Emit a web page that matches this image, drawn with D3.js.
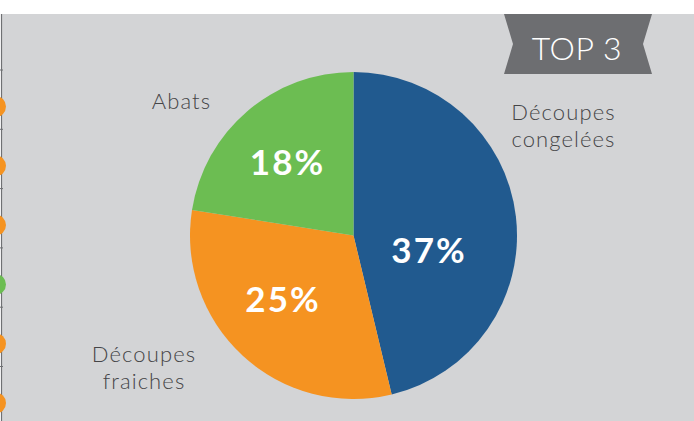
<!DOCTYPE html>
<html>
<head>
<meta charset="utf-8">
<script src="https://cdn.jsdelivr.net/npm/d3@7"></script>
<style>
html,body{margin:0;padding:0;background:#fff;}
svg{display:block;}
</style>
</head>
<body>
<svg id="chart" width="694" height="421"></svg>
<script>
// ---- data ----
const categories = ["Découpes congelées", "Découpes fraiches", "Abats"];
const values = [37, 25, 18];
const percentLabels = ["37%", "25%", "18%"];
const categoryLines = [["Découpes", "congelées"], ["Découpes", "fraiches"], ["Abats"]];
const colors = ["#215a8f", "#f59321", "#6cbd52"];
const badgeText = "TOP 3";
const sideDotColors = ["#f59321", "#f59321", "#f59321", "#6cbd52", "#f59321", "#f59321"];

// ---- layout ----
const W = 694, H = 421;
const cx = 353.5, cy = 235.5, R = 163.5;
const pctPos = [[428, 263], [282, 312], [286.5, 174.5]];      // centre x, baseline y
const catPos = [[563, 120], [143.5, 362], [181, 109]];        // centre x, first baseline
const lineGap = 27;

const svg = d3.select("#chart");

// background
svg.append("rect").attr("x", 0).attr("y", 0).attr("width", W).attr("height", H).attr("fill", "#ffffff");
svg.append("rect").attr("x", 2).attr("y", 14).attr("width", W - 2).attr("height", H - 14).attr("fill", "#d3d4d6");

// left decorative timeline
svg.append("line").attr("x1", 1.5).attr("x2", 1.5).attr("y1", 14).attr("y2", H)
  .attr("stroke", "#6f7073").attr("stroke-width", 1.2);
const dotY = d3.scalePoint().domain(d3.range(sideDotColors.length)).range([106.5, 403]);
sideDotColors.forEach((c, i) => {
  svg.append("line").attr("x1", 0).attr("x2", 3).attr("y1", dotY(i) - 36.5).attr("y2", dotY(i) - 36.5)
    .attr("stroke", "#6f7073").attr("stroke-width", 1);
  svg.append("circle").attr("cx", -4.5).attr("cy", dotY(i)).attr("r", 10.5).attr("fill", c);
});

// TOP 3 badge
const bx0 = 504, bx1 = 652, by0 = 14, by1 = 74, notch = 9;
svg.append("path")
  .attr("d", `M${bx0},${by0} L${bx1},${by0} L${bx1 - notch},${(by0 + by1) / 2} L${bx1},${by1} L${bx0},${by1} L${bx0 + notch},${(by0 + by1) / 2} Z`)
  .attr("fill", "#6d6e71");
svg.append("text").attr("x", (bx0 + bx1) / 2 - 1).attr("y", 60)
  .attr("text-anchor", "middle").attr("fill", "#ffffff")
  .attr("font-family", "Lato, 'Open Sans', sans-serif").attr("font-weight", 300)
  .attr("font-size", 32).attr("letter-spacing", 0.6).text(badgeText);

// pie
const pie = d3.pie().sort(null).value(d => d)(values);
const arc = d3.arc().innerRadius(0).outerRadius(R);
const g = svg.append("g").attr("transform", `translate(${cx},${cy})`);
g.selectAll("path").data(pie).join("path")
  .attr("d", arc).attr("fill", (d, i) => colors[i]);

// percent labels
svg.selectAll("text.pct").data(percentLabels).join("text").attr("class", "pct")
  .attr("x", (d, i) => pctPos[i][0] + 1).attr("y", (d, i) => pctPos[i][1])
  .attr("text-anchor", "middle").attr("fill", "#ffffff")
  .attr("font-family", "Lato, 'Open Sans', sans-serif").attr("font-weight", 700)
  .attr("font-size", 35).attr("letter-spacing", 2).text(d => d);

// category labels
categoryLines.forEach((lines, i) => {
  const t = svg.append("text").attr("text-anchor", "middle").attr("fill", "#454547")
    .attr("font-family", "Lato, 'Open Sans', sans-serif").attr("font-weight", 300)
    .attr("font-size", 22).attr("letter-spacing", 1.1);
  lines.forEach((ln, j) => {
    t.append("tspan").attr("x", catPos[i][0] + 0.5).attr("y", catPos[i][1] + j * lineGap).text(ln);
  });
});
</script>
</body>
</html>
